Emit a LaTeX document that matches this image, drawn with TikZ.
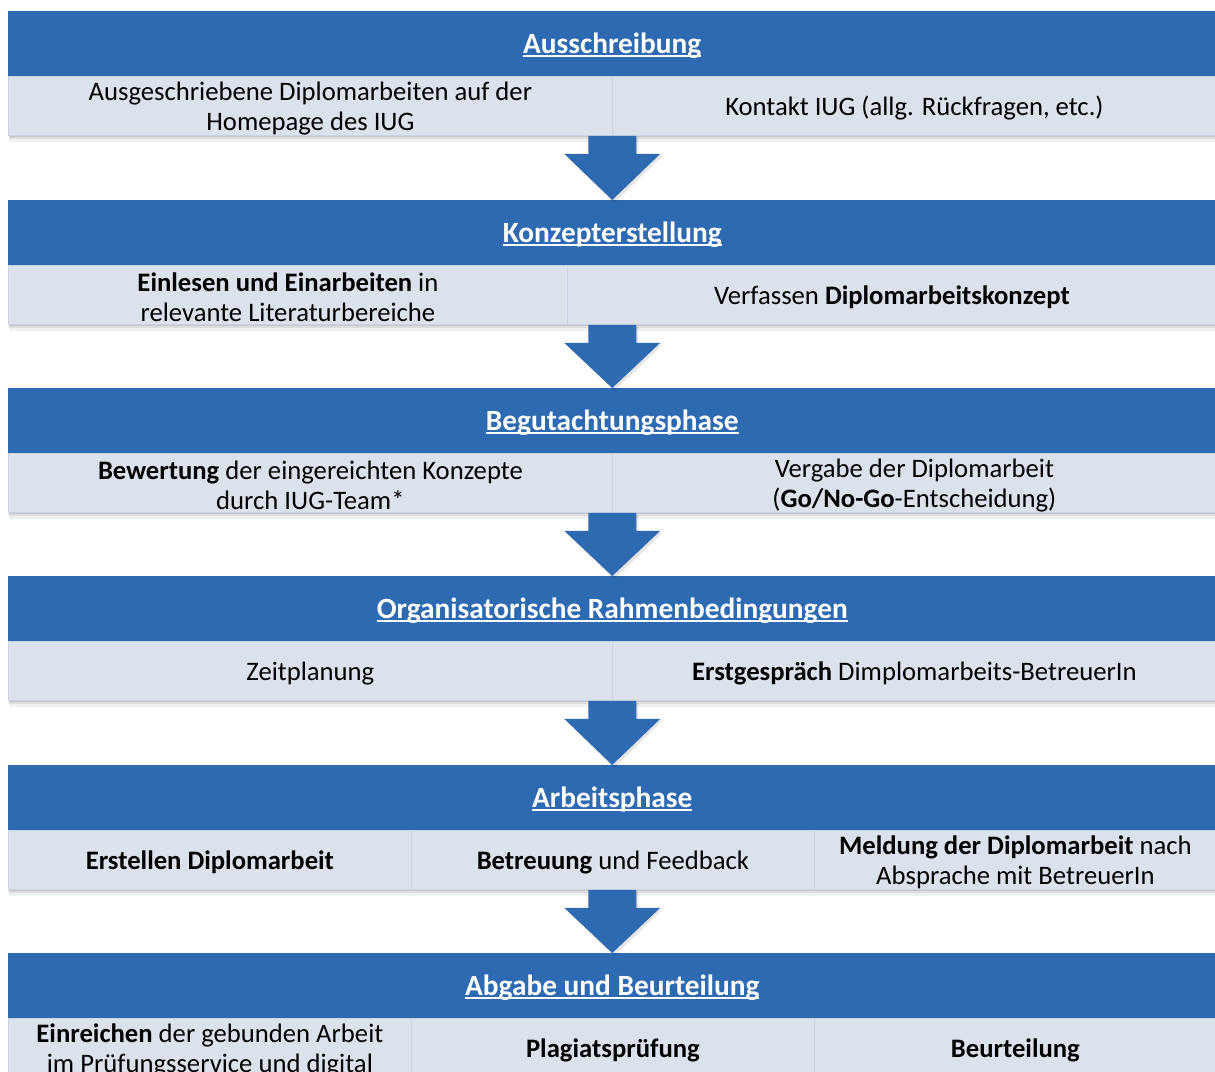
\documentclass[tikz,border=0pt]{standalone}
\usepackage{fontspec}
\setmainfont{Carlito}
\usetikzlibrary{calc}
\definecolor{hdr}{RGB}{46,106,178}
\definecolor{cellc}{RGB}{220,226,236}
\definecolor{divc}{RGB}{203,212,228}
\newcommand\uln[1]{\setbox0\hbox{#1}\rlap{\rule[-0.12em]{\wd0}{0.07em}}\box0}
\newcommand\flowarrow[2]{%
  \fill[black,opacity=0.10] ($(#1)+(-22,2)$) -- ++(48,0) -- ++(0,18) -- ++(24,0) -- ($(#2)+(2,3)$) -- ($(#1)+(-46,20)$) -- ++(24,0) -- cycle;
  \fill[flow] ($(#1)+(-24,0)$) -- ++(48,0) -- ++(0,18) -- ++(24,0) -- (#2) -- ($(#1)+(-48,18)$) -- ++(24,0) -- cycle;}
\newcommand\rowshadow[1]{%
  \fill[black,opacity=0.06] (9,#1) rectangle (1216,#1+7);
  \fill[black,opacity=0.08] (9,#1) rectangle (1216,#1+4);
  \fill[black,opacity=0.10] (9,#1) rectangle (1216,#1+2);}
% \cellnode{name}{width}{top-left}{text}
\newcommand\cellnode[4]{%
  \node[cellbox, minimum width=#2] (#1) at (#3) {};
  \node[celltext] (#1t) at ($(#1.center)+(0,2.5)$) {#4};}
\newcommand\hdrnode[3]{%
  \node[hdrbox] (#1) at (#2) {};
  \node[hdrtext] (#1t) at ($(#1.center)+(0,2)$) {\uln{#3}};}
\begin{document}
\begin{tikzpicture}[x=0.75pt,y=-0.75pt,
  hdrbox/.style={fill=hdr, minimum width=906pt, minimum height=48.75pt, inner sep=0pt, anchor=north west},
  hdrtext/.style={inner sep=0pt, text=white, font=\fontsize{22}{26}\selectfont\bfseries},
  cellbox/.style={fill=cellc, draw=divc, line width=0.6pt, minimum height=44.25pt, inner sep=0pt, anchor=north west},
  celltext/.style={inner sep=0pt, align=center, font=\fontsize{20}{22.5}\selectfont},
  flow/.style={fill=hdr}]
\useasboundingbox (0,0) rectangle (1215,1072);
\clip (0,0) rectangle (1215,1072);

% shadows under the light rows
\rowshadow{135}
\rowshadow{324}
\rowshadow{512}
\rowshadow{700}
\rowshadow{889}

% Section 1
\hdrnode{h1}{8,11}{Ausschreibung}
\cellnode{c1a}{453pt}{8,76}{Ausgeschriebene Diplomarbeiten auf der\\Homepage des IUG}
\cellnode{c1b}{453pt}{612,76}{Kontakt IUG (allg. Rückfragen, etc.)}

% Section 2
\hdrnode{h2}{8,200}{Konzepterstellung}
\cellnode{c2a}{419.25pt}{8,265}{\textbf{Einlesen und Einarbeiten} in\\relevante Literaturbereiche}
\cellnode{c2b}{486.75pt}{567,265}{Verfassen \textbf{Diplomarbeitskonzept}}

% Section 3
\hdrnode{h3}{8,388}{Begutachtungsphase}
\cellnode{c3a}{453pt}{8,453}{\textbf{Bewertung} der eingereichten Konzepte\\durch IUG-Team*}
\cellnode{c3b}{453pt}{612,453}{Vergabe der Diplomarbeit\\(\textbf{Go/No-Go}-Entscheidung)}

% Section 4
\hdrnode{h4}{8,576}{Organisatorische Rahmenbedingungen}
\cellnode{c4a}{453pt}{8,641}{Zeitplanung}
\cellnode{c4b}{453pt}{612,641}{\textbf{Erstgespräch} Dimplomarbeits-BetreuerIn}

% Section 5
\hdrnode{h5}{8,765}{Arbeitsphase}
\cellnode{c5a}{302.25pt}{8,830}{\textbf{Erstellen Diplomarbeit}}
\cellnode{c5b}{302.25pt}{411,830}{\textbf{Betreuung} und Feedback}
\cellnode{c5c}{301.5pt}{814,830}{\textbf{Meldung der Diplomarbeit} nach\\Absprache mit BetreuerIn}

% Section 6
\hdrnode{h6}{8,953}{Abgabe und Beurteilung}
\cellnode{c6a}{302.25pt}{8,1018}{\textbf{Einreichen} der gebunden Arbeit\\im Prüfungsservice und digital}
\cellnode{c6b}{302.25pt}{411,1018}{\textbf{Plagiatsprüfung}}
\cellnode{c6c}{301.5pt}{814,1018}{\textbf{Beurteilung}}

% arrows
\coordinate (a1) at (h1.south |- c1a.south);
\coordinate (a2) at (h2.south |- c2a.south);
\coordinate (a3) at (h3.south |- c3a.south);
\coordinate (a4) at (h4.south |- c4a.south);
\coordinate (a5) at (h5.south |- c5a.south);
\flowarrow{a1}{h2.north}
\flowarrow{a2}{h3.north}
\flowarrow{a3}{h4.north}
\flowarrow{a4}{h5.north}
\flowarrow{a5}{h6.north}
\end{tikzpicture}
\end{document}
